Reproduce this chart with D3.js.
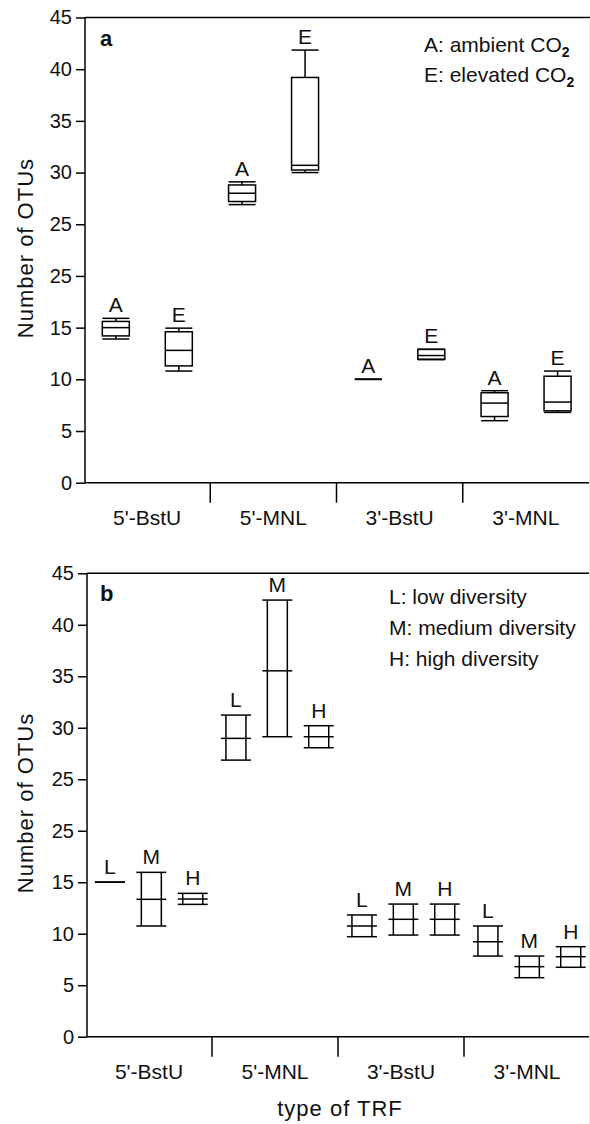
<!DOCTYPE html>
<html>
<head>
<meta charset="utf-8">
<script src="https://cdn.jsdelivr.net/npm/d3@7"></script>
<style>
  html, body { margin: 0; padding: 0; background: #fff; }
  svg { display: block; }
  text { font-family: "Liberation Sans", Arial, sans-serif; fill: #111; }
</style>
</head>
<body>
<div id="chart"></div>
<script>
// ---------- data ----------
const categories = ["5'-BstU", "5'-MNL", "3'-BstU", "3'-MNL"];
const tickValues = [0, 5, 10, 15, 20, 25, 30, 35, 40, 45];
const tickLabels = ["0", "5", "10", "15", "25", "25", "30", "35", "40", "45"];

// panel a: CO2 treatment box plots (order: category x group)
const co2Groups = ["A", "E"];
const co2Legend = ["A: ambient CO", "E: elevated CO"];
const co2Min = [[13.9, 10.8], [26.9, 30.0], [10.0, 11.9], [6.0, 6.8]];
const co2Q1  = [[14.2, 11.3], [27.2, 30.25], [10.0, 11.95], [6.4, 6.95]];
const co2Med = [[15.0, 12.8], [28.0, 30.7], [10.0, 12.3], [7.7, 7.8]];
const co2Q3  = [[15.6, 14.6], [28.8, 39.2], [10.0, 12.9], [8.7, 10.3]];
const co2Max = [[15.9, 14.95], [29.1, 41.85], [10.0, 12.9], [8.9, 10.8]];

// panel b: diversity level ranges
const divGroups = ["L", "M", "H"];
const divLegend = ["L: low diversity", "M: medium diversity", "H: high diversity"];
const divMin = [[15.0, 10.75, 12.85], [26.86, 29.13, 28.06], [9.71, 9.87, 9.87], [7.83, 5.73, 6.74]];
const divMed = [[15.0, 13.34, 13.37], [28.97, 35.53, 29.13], [10.75, 11.4, 11.4], [9.22, 6.8, 7.77]];
const divMax = [[15.0, 15.96, 13.92], [31.23, 42.4, 30.2], [11.82, 12.88, 12.88], [10.75, 7.83, 8.74]];

// ---------- drawing ----------
const W = 590, H = 1124;
const svg = d3.select("#chart").append("svg").attr("width", W).attr("height", H);

function drawFrame(p) {
  const g = svg.append("g");
  // y axis
  const yAxis = d3.axisLeft(p.y).tickValues(tickValues)
    .tickFormat((d, i) => tickLabels[i]).tickSize(9).tickPadding(4);
  const ya = g.append("g").attr("transform", `translate(${p.left},0)`).call(yAxis);
  ya.select(".domain").remove();
  ya.selectAll("line").attr("stroke", "#000").attr("stroke-width", 1.5);
  ya.selectAll("text").style("font-size", "20px").attr("fill", "#111");
  // frame lines: left, bottom, top
  g.append("line").attr("x1", p.left).attr("x2", p.left)
    .attr("y1", p.y(45)).attr("y2", p.y(0)).attr("stroke", "#000").attr("stroke-width", 1.5);
  g.append("line").attr("x1", p.left).attr("x2", W)
    .attr("y1", p.y(0)).attr("y2", p.y(0)).attr("stroke", "#000").attr("stroke-width", 1.5);
  g.append("line").attr("x1", p.left).attr("x2", W)
    .attr("y1", p.y(45)).attr("y2", p.y(45)).attr("stroke", "#000").attr("stroke-width", 1.5);
  // category separators
  categories.slice(1).forEach(c => {
    const xs = p.x(c) - p.x.step() * p.x.paddingInner() / 2;
    g.append("line").attr("x1", xs).attr("x2", xs)
      .attr("y1", p.y(0)).attr("y2", p.y(0) + 20).attr("stroke", "#000").attr("stroke-width", 1.5);
  });
  // category labels
  categories.forEach(c => {
    g.append("text").attr("x", p.x(c) + p.x.bandwidth() / 2).attr("y", p.y(0) + 42)
      .attr("text-anchor", "middle").style("font-size", "21px").text(c);
  });
  // y title
  const yc = (p.y(0) + p.y(45)) / 2 - 2;
  g.append("text").attr("transform", `translate(33,${yc}) rotate(-90)`)
    .attr("text-anchor", "middle").style("font-size", "22px").style("letter-spacing", "1px")
    .text("Number of OTUs");
  // panel letter
  g.append("text").attr("x", 100).attr("y", p.y(45) + 28)
    .style("font-size", "22px").style("font-weight", "bold").text(p.letter);
  return g;
}

// ---- panel a ----
const pa = {
  left: 85, letter: "a",
  x: d3.scaleBand().domain(categories).range([84, 589]).paddingInner(0).paddingOuter(0),
  y: d3.scaleLinear().domain([0, 45]).range([482.7, 17.5])
};
const ga = drawFrame(pa);
const subA = d3.scalePoint().domain(co2Groups).range([0.252 * pa.x.bandwidth(), 0.751 * pa.x.bandwidth()]);
const boxW = 27;
categories.forEach((c, ci) => {
  co2Groups.forEach((grp, gi) => {
    const cx = pa.x(c) + subA(grp);
    const y = pa.y;
    const b = ga.append("g").attr("stroke", "#000").attr("stroke-width", 1.5).attr("fill", "none");
    // whiskers
    b.append("line").attr("x1", cx).attr("x2", cx).attr("y1", y(co2Max[ci][gi])).attr("y2", y(co2Q3[ci][gi]));
    b.append("line").attr("x1", cx).attr("x2", cx).attr("y1", y(co2Q1[ci][gi])).attr("y2", y(co2Min[ci][gi]));
    // caps
    [co2Max[ci][gi], co2Min[ci][gi]].forEach(v => {
      b.append("line").attr("x1", cx - boxW / 2).attr("x2", cx + boxW / 2).attr("y1", y(v)).attr("y2", y(v));
    });
    // box
    b.append("rect").attr("x", cx - boxW / 2).attr("width", boxW)
      .attr("y", y(co2Q3[ci][gi])).attr("height", Math.max(0, y(co2Q1[ci][gi]) - y(co2Q3[ci][gi])));
    b.append("line").attr("x1", cx - boxW / 2).attr("x2", cx + boxW / 2)
      .attr("y1", y(co2Med[ci][gi])).attr("y2", y(co2Med[ci][gi]));
    ga.append("text").attr("x", cx).attr("y", y(co2Max[ci][gi]) - 6)
      .attr("text-anchor", "middle").style("font-size", "21px").text(grp);
  });
});
co2Legend.forEach((t, i) => {
  const tx = ga.append("text").attr("x", 424).attr("y", 52 + i * 30).style("font-size", "21px");
  tx.append("tspan").text(t);
  tx.append("tspan").attr("dy", 5).style("font-size", "14px").style("font-weight", "bold").text("2");
});

// ---- panel b ----
const pb = {
  left: 87, letter: "b",
  x: d3.scaleBand().domain(categories).range([86, 590]).paddingInner(0).paddingOuter(0),
  y: d3.scaleLinear().domain([0, 45]).range([1036.7, 573.3])
};
const gb = drawFrame(pb);
// x title
gb.append("text").attr("x", 340).attr("y", 1116).attr("text-anchor", "middle")
  .style("font-size", "22px").style("letter-spacing", "1px").text("type of TRF");
const subB = d3.scalePoint().domain(divGroups).range([0.19 * pb.x.bandwidth(), 0.847 * pb.x.bandwidth()]);
const halfIn = 10, halfOut = 15;
categories.forEach((c, ci) => {
  divGroups.forEach((grp, gi) => {
    const cx = pb.x(c) + subB(grp);
    const y = pb.y;
    const b = gb.append("g").attr("stroke", "#000").attr("stroke-width", 1.5).attr("fill", "none");
    const lo = divMin[ci][gi], md = divMed[ci][gi], hi = divMax[ci][gi];
    if (hi - lo > 0.01) {
      [-halfIn, halfIn].forEach(dx => {
        b.append("line").attr("x1", cx + dx).attr("x2", cx + dx).attr("y1", y(hi)).attr("y2", y(lo));
      });
    }
    [lo, md, hi].forEach(v => {
      b.append("line").attr("x1", cx - halfOut).attr("x2", cx + halfOut).attr("y1", y(v)).attr("y2", y(v));
    });
    gb.append("text").attr("x", cx).attr("y", y(hi) - 8)
      .attr("text-anchor", "middle").style("font-size", "21px").text(grp);
  });
});
divLegend.forEach((t, i) => {
  gb.append("text").attr("x", 389).attr("y", 604 + i * 31).style("font-size", "21px").text(t);
});

// faint right border
svg.append("line").attr("x1", 589.5).attr("x2", 589.5).attr("y1", 18).attr("y2", H)
  .attr("stroke", "#e6e6e6").attr("stroke-width", 1);
</script>
</body>
</html>
